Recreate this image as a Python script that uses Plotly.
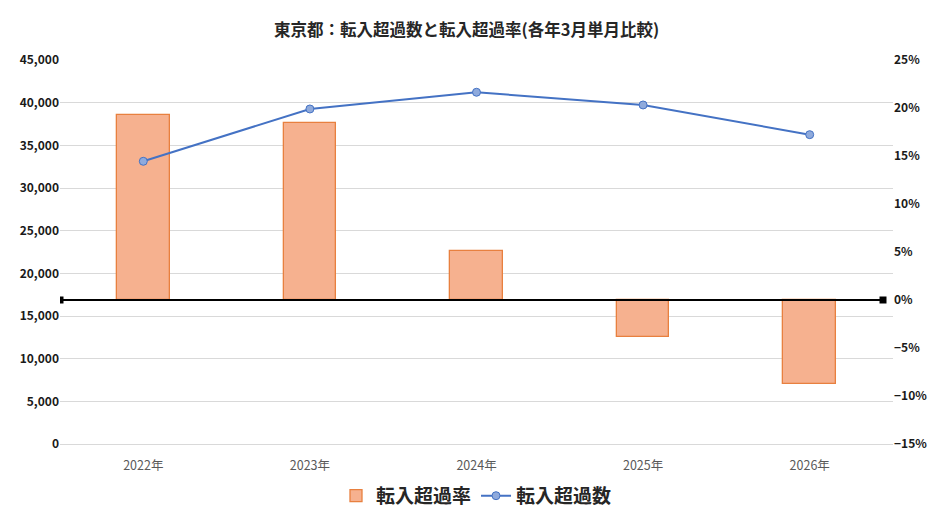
import plotly.graph_objects as go

years = ["2022年", "2023年", "2024年", "2025年", "2026年"]
count = [33130, 39260, 41220, 39730, 36250]   # 転入超過数
rate = [0.1927, 0.184, 0.0507, -0.039, -0.087]  # 転入超過率
zero_x = [-0.5, 4.44]
zero_y = [0, 0]

xs = list(range(len(years)))
font = "Noto Sans CJK JP"

fig = go.Figure()

fig.add_trace(go.Bar(
    x=xs, y=rate, name="転入超過率", yaxis="y", width=0.315,
    marker=dict(color="#F6B18F", line=dict(color="#E8803F", width=1.3)),
))
fig.add_trace(go.Scatter(
    x=zero_x, y=zero_y, yaxis="y", mode="lines+markers", showlegend=False,
    line=dict(color="black", width=2),
    marker=dict(symbol="square", size=7, color="black"),
    hoverinfo="skip",
))
fig.add_trace(go.Scatter(
    x=xs, y=count, name="転入超過数", yaxis="y2", mode="lines+markers",
    line=dict(color="#4472C4", width=2),
    marker=dict(size=8, color="#8FAADC", line=dict(color="#4472C4", width=1)),
))

# page body has an 8px margin, so margins are offset to line up with the reference
fig.update_layout(
    width=940, height=529,
    margin=dict(l=50, r=55, t=52, b=93),
    paper_bgcolor="white", plot_bgcolor="white",
    font=dict(family=font, color="#404040"),
    title=dict(text="<b>東京都：転入超過数と転入超過率(各年3月単月比較)</b>",
               x=0.488, xanchor="center", y=0.958, yanchor="middle",
               font=dict(size=16.5, color="#262626")),
    xaxis=dict(range=[-0.5, 4.5], tickvals=xs, ticktext=years,
               showgrid=False, zeroline=False, showline=False,
               ticklabelstandoff=12,
               tickfont=dict(size=12.5, color="#595959")),
    yaxis=dict(side="right", range=[-0.15, 0.25], dtick=0.05, tickformat=".0%",
               showgrid=False, zeroline=False,
               tickfont=dict(size=12, color="#1a1a1a", weight="bold")),
    yaxis2=dict(side="left", overlaying="y", range=[0, 45000], dtick=5000,
                tickformat=",", showgrid=True, gridcolor="#D9D9D9", gridwidth=1,
                zeroline=True, zerolinecolor="#D9D9D9", zerolinewidth=1,
                tickfont=dict(size=12, color="#1a1a1a", weight="bold")),
    legend=dict(orientation="h", x=0.5, xanchor="center", y=-0.135, yanchor="middle",
                font=dict(size=19, color="#262626", weight="bold")),
    bargap=0,
)

fig.write_html("out.html")
